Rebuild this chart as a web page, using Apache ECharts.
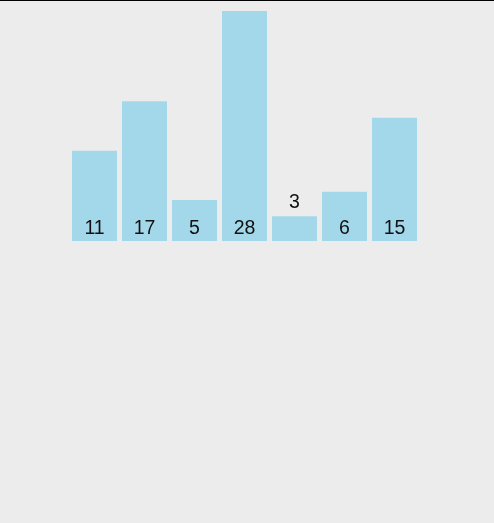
<!DOCTYPE html>
<html>
<head>
<meta charset="utf-8">
<script src="https://cdn.jsdelivr.net/npm/echarts@6/dist/echarts.min.js"></script>
<style>
html,body{margin:0;padding:0;background:#ececec;}
#c{width:494px;height:523px;}
</style>
</head>
<body>
<div id="c"></div>
<script>
var categories = ['a','b','c','d','e','f','g'];
var values = [11, 17, 5, 28, 3, 6, 15];
var smallThreshold = 4;

var chart = echarts.init(document.getElementById('c'), null, {renderer:'canvas'});
chart.setOption({
  backgroundColor: '#ececec',
  animation: false,
  graphic: [{type:'rect', shape:{x:0,y:0,width:494,height:1}, style:{fill:'#000'}}],
  grid: {left: 69.5, right: 74.5, top: 11, bottom: 282},
  xAxis: {type:'category', data: categories, show:false},
  yAxis: {type:'value', min:0, max:28, show:false},
  series: [{
    type:'bar',
    barCategoryGap: '10%',
    data: values.map(function(v){
      return {value: v, label: v < smallThreshold ? {position:'top', distance:4} : {}};
    }),
    itemStyle: {color:'#a3d8ea'},
    label: {show:true, position:'insideBottom', distance:2.5, color:'#111', fontSize:19.5, fontFamily:'Liberation Sans, Arial, sans-serif'}
  }]
});
</script>
</body>
</html>
